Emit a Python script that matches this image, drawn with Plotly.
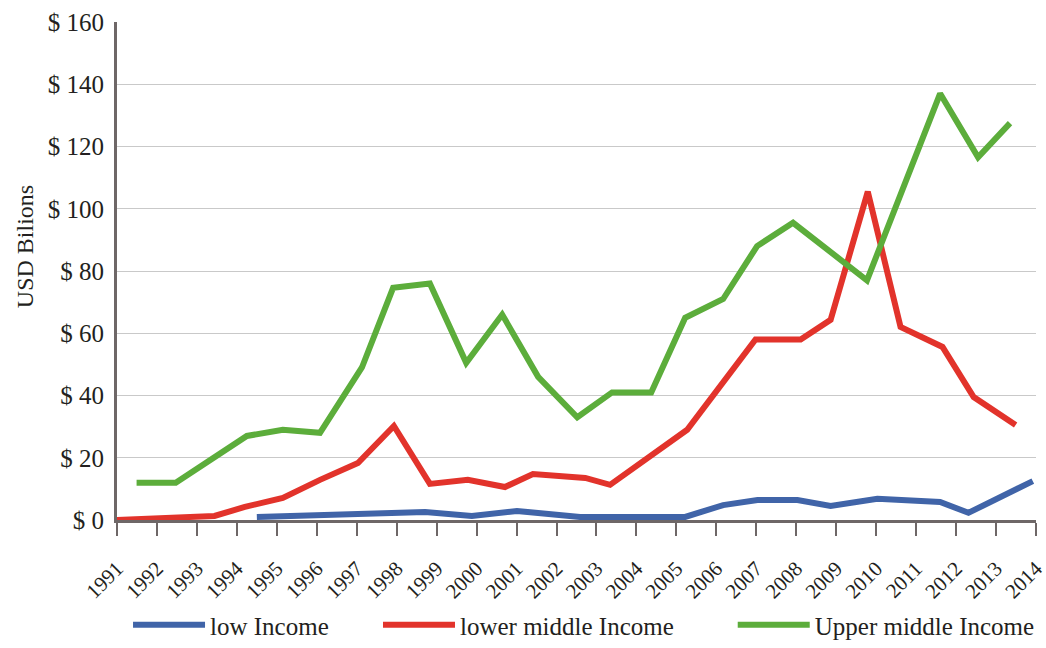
import plotly.graph_objects as go

# ---- data (x positions are fractional years as drawn in the reference) ----
years = list(range(1991, 2015))
year_labels = [str(y) for y in years]
y_ticks = [0, 20, 40, 60, 80, 100, 120, 140, 160]

low_x = [1994.50, 1998.71, 1999.88, 2001.01, 2002.59, 2005.22, 2006.17, 2007.03,
         2008.03, 2008.86, 2010.03, 2011.60, 2012.31, 2013.92]
low_y = [1.0, 2.6, 1.3, 2.9, 1.0, 1.0, 4.8, 6.4, 6.4, 4.5, 6.8, 5.8, 2.3, 12.5]

lower_x = [1991.0, 1993.44, 1994.20, 1995.15, 1996.08, 1997.03, 1997.93, 1998.83,
           1999.78, 2000.71, 2001.41, 2002.72, 2003.34, 2005.27, 2006.98, 2008.11,
           2008.86, 2009.79, 2010.61, 2011.66, 2012.44, 2013.49]
lower_y = [0.0, 1.3, 4.2, 7.1, 12.9, 18.3, 30.2, 11.6, 12.9, 10.6, 14.8, 13.5,
           11.3, 29.0, 58.0, 58.0, 64.3, 105.5, 62.0, 55.6, 39.5, 30.5]

upper_x = [1991.49, 1992.47, 1994.25, 1995.15, 1996.08, 1997.13, 1997.91, 1998.83,
           1999.74, 2000.64, 2001.54, 2002.52, 2003.39, 2004.37, 2005.22, 2006.17,
           2007.02, 2007.92, 2009.77, 2011.60, 2012.55, 2013.35]
upper_y = [12.0, 12.0, 27.0, 29.0, 28.0, 49.0, 74.6, 76.0, 50.5, 66.0, 46.0, 33.0,
           41.0, 41.0, 65.0, 71.0, 88.0, 95.5, 77.0, 137.0, 116.5, 127.5]

names = ["low Income", "lower middle Income", "Upper middle Income"]
colors = ["#4064a8", "#e2332b", "#5cad3b"]

FONT = "Liberation Serif, Times New Roman, serif"
AXIS_COLOR = "#6e6767"
TEXT_COLOR = "#231f20"

fig = go.Figure()
series = [(low_x, low_y), (lower_x, lower_y), (upper_x, upper_y)]
legends = ["legend", "legend2", "legend3"]
for (xs, ys), name, col, lg in zip(series, names, colors, legends):
    fig.add_trace(go.Scatter(x=xs, y=ys, mode="lines", name=name, showlegend=True,
                             line=dict(color=col, width=6), legend=lg))

legend_common = dict(orientation="h", yref="container", yanchor="bottom", y=0.0,
                     xanchor="left",
                     font=dict(family=FONT, size=25, color=TEXT_COLOR),
                     itemwidth=72, bgcolor="rgba(0,0,0,0)")

fig.update_layout(
    width=1046, height=648,
    margin=dict(l=117, r=10, t=22, b=128, autoexpand=False),
    showlegend=True,
    paper_bgcolor="white", plot_bgcolor="white",
    font=dict(family=FONT, color=TEXT_COLOR),
    legend=dict(x=0.012, **legend_common),
    legend2=dict(x=0.284, **legend_common),
    legend3=dict(x=0.670, **legend_common),
    xaxis=dict(range=[1991, 2014], tickvals=years, ticktext=year_labels,
               tickangle=-45, tickfont=dict(family=FONT, size=21, color=TEXT_COLOR),
               showgrid=False, zeroline=False, showline=True, linewidth=3,
               linecolor=AXIS_COLOR, ticks="outside", ticklen=13, tickwidth=2,
               tickcolor=AXIS_COLOR, ticklabelshift=0, ticklabelstandoff=12,
               ticklabeloverflow="allow", automargin=False),
    yaxis=dict(range=[0, 160], tickvals=y_ticks,
               ticktext=["$ " + str(v) for v in y_ticks],
               tickfont=dict(family=FONT, size=25, color=TEXT_COLOR),
               showgrid=True, gridcolor="#c9c9c9", gridwidth=1, zeroline=False,
               showline=True, linewidth=3, linecolor=AXIS_COLOR,
               ticks="", ticklabelstandoff=5, automargin=False),
    annotations=[dict(text="USD Bilions", textangle=-90, xref="paper", yref="paper",
                      x=-0.100, y=0.548, xanchor="center", yanchor="middle",
                      showarrow=False, font=dict(family=FONT, size=24, color=TEXT_COLOR))],
)

fig.write_html("out.html")
